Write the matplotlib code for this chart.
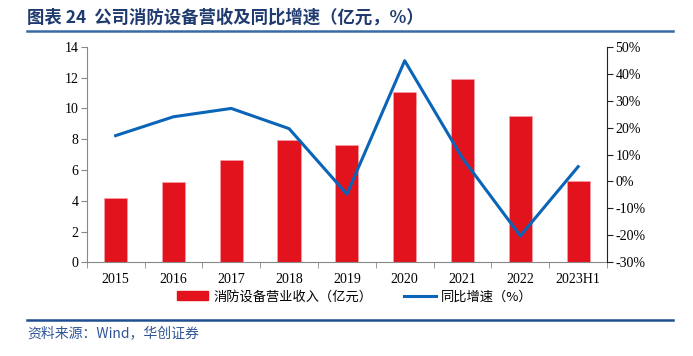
import matplotlib
matplotlib.use("Agg")
import matplotlib.pyplot as plt
from matplotlib.lines import Line2D
from matplotlib.patches import Patch
import numpy as np

categories = ["2015", "2016", "2017", "2018", "2019", "2020", "2021", "2022", "2023H1"]
revenue = [4.18, 5.21, 6.64, 7.96, 7.60, 11.04, 11.92, 9.48, 5.30]
growth = [17.0, 24.0, 27.1, 19.6, -4.7, 44.8, 8.6, -20.2, 5.5]
left_ticks = [0, 2, 4, 6, 8, 10, 12, 14]
right_ticks = [-30, -20, -10, 0, 10, 20, 30, 40, 50]

title = "图表 24  公司消防设备营收及同比增速（亿元，%）"
source = "资料来源：Wind，华创证券"
bar_label = "消防设备营业收入（亿元）"
line_label = "同比增速（%）"

RED = "#E3131E"
BLUE = "#0A64B8"
CJK = ["Noto Sans CJK SC", "DejaVu Sans"]
SERIF = ["Liberation Serif", "DejaVu Serif"]

fig = plt.figure(figsize=(6.93, 3.56), dpi=100)
ax = fig.add_axes([0.1251, 0.2632, 0.876 - 0.1251, 0.8688 - 0.2632])
x = np.arange(len(categories))
ax.bar(x, revenue, width=0.4, color=RED, edgecolor="#F4A0A5", linewidth=0.5, zorder=2)
ax.set_xlim(-0.5, len(categories) - 0.5)
ax.set_ylim(0, 14)
ax.set_yticks(left_ticks)
ax.set_yticklabels([str(v) for v in left_ticks], family=SERIF, fontsize=10)
ax.set_xticks(x)
ax.set_xticklabels(categories, family=SERIF, fontsize=10)
ax.tick_params(axis="x", length=0, pad=8)
ax.set_xticks(np.arange(-0.5, len(categories), 1.0), minor=True)
ax.tick_params(axis="x", which="minor", length=4, color="#888888", direction="out")
ax.tick_params(axis="y", length=4, color="#888888", direction="out", pad=2)
for s in ["top", "right"]:
    ax.spines[s].set_visible(False)
ax.spines["left"].set_color("#888888")
ax.spines["bottom"].set_color("#888888")

ax2 = ax.twinx()
ax2.plot(x, growth, color=BLUE, linewidth=2.2, zorder=3)
ax2.set_ylim(-30, 50)
ax2.set_yticks(right_ticks)
ax2.set_yticklabels([f"{v}%" for v in right_ticks], family=SERIF, fontsize=10)
ax2.tick_params(axis="y", length=4, color="#222222", direction="out", pad=2)
for s in ["top", "left", "bottom"]:
    ax2.spines[s].set_visible(False)
ax2.spines["right"].set_color("#222222")

handles = [Patch(facecolor=RED, edgecolor=RED),
           Line2D([0], [0], color=BLUE, linewidth=2.2)]
leg = fig.legend(handles, [bar_label, line_label], loc="center", bbox_to_anchor=(0.512, 0.166),
                 ncol=2, frameon=False, prop={"family": CJK, "size": 9.5},
                 handlelength=2.4, handleheight=0.7, handletextpad=0.4, columnspacing=2.4)

fig.text(27 / 693, 1 - 18 / 356, title, family=CJK, fontsize=12.5, fontweight="bold",
         color="#1F3A6E", va="center", ha="left")
fig.add_artist(Line2D([27 / 693, 673 / 693], [1 - 30.5 / 356, 1 - 30.5 / 356],
                      color="#3A6AA5", linewidth=1.8))
fig.add_artist(Line2D([27 / 693, 673 / 693], [1 - 319.5 / 356, 1 - 319.5 / 356],
                      color="#1F4E91", linewidth=1.8))
fig.text(27 / 693, 1 - 333 / 356, source, family=CJK, fontsize=10, style="italic",
         color="#2F5597", va="center", ha="left")

fig.savefig("out.png", dpi=100)
